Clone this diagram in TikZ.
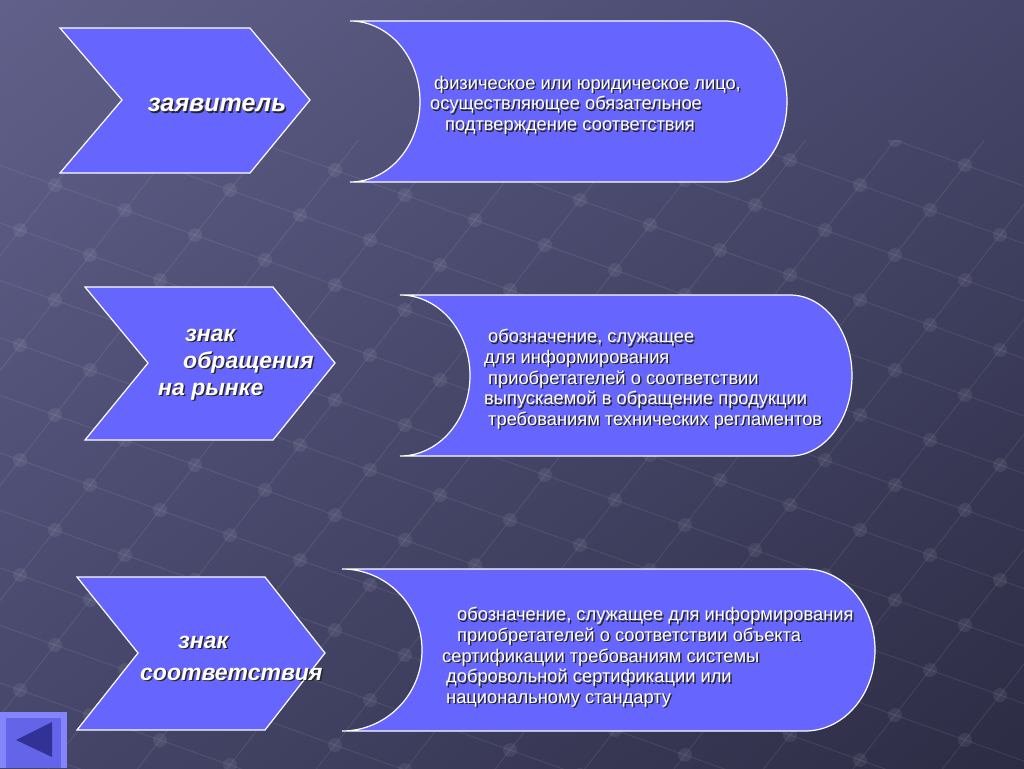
\documentclass[tikz,border=0pt]{standalone}
\usepackage{fontspec}
\setmainfont{Liberation Sans}
\usetikzlibrary{positioning, shadings}

\definecolor{bgtop}{RGB}{96,96,138}
\definecolor{bgmid}{RGB}{70,70,106}
\definecolor{bgbot}{RGB}{44,44,68}
\definecolor{panelfill}{RGB}{102,102,255}
\definecolor{btnedge}{RGB}{132,132,252}
\definecolor{btnface}{RGB}{100,100,232}
\definecolor{btnarrow}{RGB}{50,50,150}
\newcommand{\shadowed}[1]{\makebox[0pt][l]{\raisebox{-1.5pt}{\kern1.5pt\textcolor{black!85}{#1}}}#1}

\begin{document}
\begin{tikzpicture}[
      x=1pt, y=-1pt,
      panel/.style={draw=white, line width=1.2pt, fill=panelfill},
      title/.style={text=white, font=\fontsize{23}{27}\selectfont\bfseries\itshape, align=left, inner sep=0pt},
      note/.style={text=white, font=\fontsize{18.3}{20.6}\selectfont, align=left, inner sep=0pt},
      gridline/.style={white, opacity=0.08, line width=1pt},
      griddot/.style={fill=white, opacity=0.07}
    ]

    % background
    \useasboundingbox (0,0) rectangle (1024,768);
    \shade[upper left=bgtop, upper right=bgmid, lower left=bgmid, lower right=bgbot] (0,0) rectangle (1024,768);
    \begin{scope}
      \clip (0,140) rectangle (1024,768);
      \foreach \b in {-6,...,20}
        \draw[gridline] (-15*70-\b*35+300, -15*25+\b*45+100) -- (15*70-\b*35+300, 15*25+\b*45+100);
      \foreach \a in {-15,...,15}
        \draw[gridline] (\a*70+6*35+300, \a*25-6*45+100) -- (\a*70-20*35+300, \a*25+20*45+100);
      \foreach \a in {-15,...,15}
        \foreach \b in {-6,...,20}
          \fill[griddot] (\a*70-\b*35+300, \a*25+\b*45+100) circle[radius=7pt];
    \end{scope}

    % chevrons
    \draw[panel] (60,28) -- (250,28) -- (310,100) -- (250,173) -- (60,173) -- (122,100) -- cycle;
    \draw[panel] (85,287) -- (273,287) -- (335,363) -- (273,440) -- (85,440) -- (148,363) -- cycle;
    \draw[panel] (77,577) -- (265,577) -- (325,653) -- (265,730) -- (77,730) -- (138,653) -- cycle;

    % definition panels
    \draw[panel] (350,21) -- (725,21) arc[start angle=90, end angle=-90, x radius=62pt, y radius=80.5pt]
      -- (350,182) arc[start angle=-90, end angle=90, x radius=70pt, y radius=80.5pt] -- cycle;
    \draw[panel] (400,295) -- (790,295) arc[start angle=90, end angle=-90, x radius=62pt, y radius=80.5pt]
      -- (400,456) arc[start angle=-90, end angle=90, x radius=70pt, y radius=80.5pt] -- cycle;
    \draw[panel] (342,569) -- (805,569) arc[start angle=90, end angle=-90, x radius=70pt, y radius=81pt]
      -- (342,731) arc[start angle=-90, end angle=90, x radius=80pt, y radius=81pt] -- cycle;

    % labels
    \node[title, font=\fontsize{25}{27}\selectfont\bfseries\itshape] (applicant) at (217,106) {\shadowed{заявитель}};
    \node[title, anchor=west] (marketmark) at (158,365)
      {\hspace*{27pt}\shadowed{знак}\\\hspace*{25pt}\shadowed{обращения}\\\shadowed{на рынке}};
    \node[title, anchor=west, font=\fontsize{23}{32}\selectfont\bfseries\itshape] (conformmark) at (140,659)
      {\hspace*{38pt}\shadowed{знак}\\\shadowed{соответствия}};

    \node[note, anchor=west] (applicantdef) at (430,106)
      {\hspace*{4pt}\shadowed{физическое или юридическое лицо,}\\
       \shadowed{осуществляющее обязательное}\\
       \hspace*{15pt}\shadowed{подтверждение соответствия}};
    \node[note, anchor=west] (marketdef) at (484,380)
      {\hspace*{4pt}\shadowed{обозначение, служащее}\\
       \shadowed{для информирования}\\
       \hspace*{4pt}\shadowed{приобретателей о соответствии}\\
       \shadowed{выпускаемой в обращение продукции}\\
       \hspace*{4pt}\shadowed{требованиям технических регламентов}};
    \node[note, anchor=west] (conformdef) at (442,658)
      {\hspace*{15pt}\shadowed{обозначение, служащее для информирования}\\
       \hspace*{15pt}\shadowed{приобретателей о соответствии объекта}\\
       \shadowed{сертификации требованиям системы}\\
       \hspace*{4pt}\shadowed{добровольной сертификации или}\\
       \hspace*{4pt}\shadowed{национальному стандарту}};

    % back button
    \fill[btnedge] (0,712) rectangle (67,768);
    \fill[btnface] (6,718) rectangle (61,768);
    \fill[btnarrow] (16,740) -- (52,722) -- (52,757) -- cycle;

\end{tikzpicture}
\end{document}
